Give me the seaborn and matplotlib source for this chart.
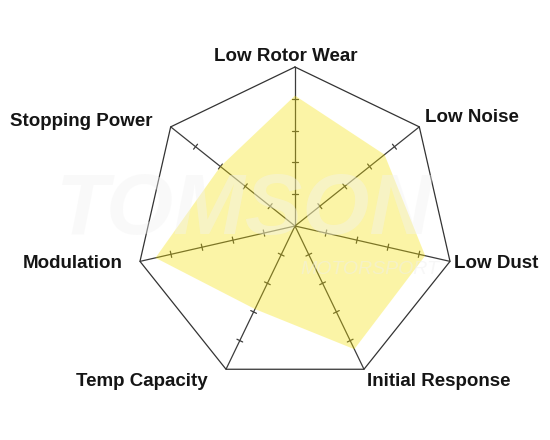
import matplotlib

matplotlib.use("Agg")

import matplotlib.pyplot as plt
import numpy as np
import seaborn as sns

sns.set_theme(style="white")
plt.rcParams["font.family"] = ["Liberation Sans", "DejaVu Sans"]

# chart data (0..5 scale)
categories = [
    "Low Rotor Wear",
    "Low Noise",
    "Low Dust",
    "Initial Response",
    "Temp Capacity",
    "Modulation",
    "Stopping Power",
]
values = [4.1, 3.6, 4.2, 4.3, 2.9, 4.5, 3.0]
scale_max = 5
tick_levels = [1, 2, 3, 4]

# label placement: pixel offset from the outer vertex + horizontal alignment
label_layout = [
    (-9, 6, "center"),
    (6, 5, "left"),
    (4, -7, "left"),
    (3, -17, "left"),
    (-18, -17, "right"),
    (-17, -7, "right"),
    (-18, 1, "right"),
]

n = len(categories)
theta = 2 * np.pi * np.arange(n) / n
ux, uy = np.sin(theta), np.cos(theta)

fig = plt.figure(figsize=(5.5, 4.4), dpi=100)
ax = fig.add_axes([0, 0, 1, 1])
px = 159 / scale_max  # pixels per unit
ax.set_xlim(-295 / px, (550 - 295) / px)
ax.set_ylim((226 - 440) / px, 226 / px)
ax.axis("off")

# spokes and tick marks
for i in range(n):
    ax.plot([0, scale_max * ux[i]], [0, scale_max * uy[i]], color="#3c3c3c", lw=0.9, zorder=1)
    for lv in tick_levels:
        cx, cy = lv * ux[i], lv * uy[i]
        h = 0.1
        ax.plot([cx - h * uy[i], cx + h * uy[i]], [cy + h * ux[i], cy - h * ux[i]],
                color="#3c3c3c", lw=0.9, zorder=1)

# outer heptagon
ox = np.append(scale_max * ux, scale_max * ux[0])
oy = np.append(scale_max * uy, scale_max * uy[0])
ax.plot(ox, oy, color="#333333", lw=0.9, zorder=1)

# value polygon
vals = np.array(values)
ax.fill(vals * ux, vals * uy, color="#F6E200", alpha=0.35, lw=0, zorder=2)

# faint watermark
fig.text(56 / 550, 1 - 234 / 440, "TOMSON", fontsize=62, fontweight="bold",
         fontstyle="italic", color="#f2f2f2", alpha=0.4, va="baseline", zorder=3)
fig.text(300 / 550, 1 - 274 / 440, "MOTORSPORT", fontsize=14, fontstyle="italic",
         color="#eeeeee", alpha=0.45, va="baseline", zorder=3)

# axis labels
for i, cat in enumerate(categories):
    dx, dy, ha = label_layout[i]
    ax.annotate(cat, xy=(scale_max * ux[i], scale_max * uy[i]), xytext=(dx, dy),
                textcoords="offset pixels", ha=ha, va="baseline",
                fontsize=13.5, fontweight="bold", color="#151515")

fig.savefig("out.png", dpi=100)
